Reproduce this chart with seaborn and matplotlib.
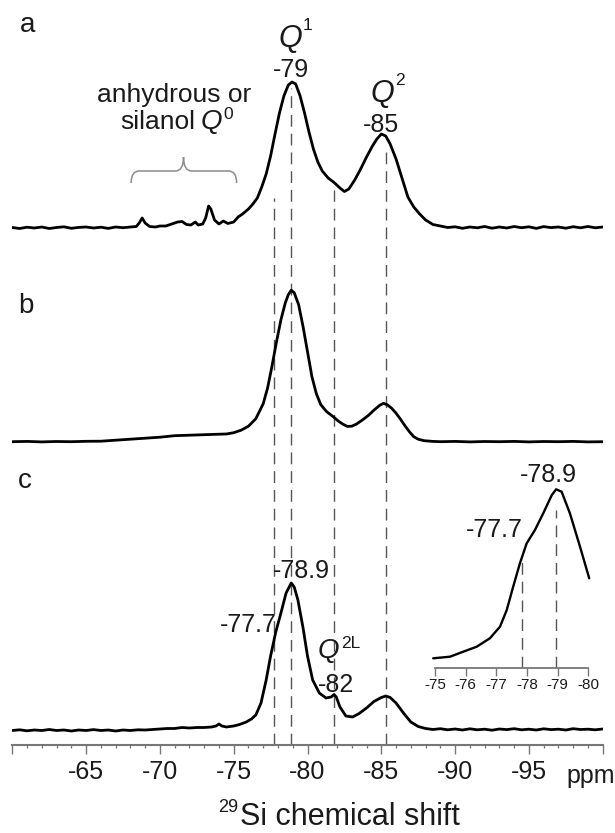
import numpy as np
import pandas as pd
import matplotlib
matplotlib.use("Agg")
import matplotlib.pyplot as plt
import seaborn as sns
from matplotlib.path import Path
from matplotlib.patches import PathPatch
from matplotlib.ticker import MultipleLocator

# ---------------- data ----------------
ppm_a = [-60.0, -60.5, -61.0, -61.5, -62.0, -62.5, -63.0, -63.5, -64.0, -64.5,
         -65.0, -65.5, -66.0, -66.5, -67.0, -67.5, -68.0, -68.4, -68.6, -68.8,
         -69.0, -69.3, -69.7, -70.0, -70.4, -70.8, -71.2, -71.5, -71.8, -72.1,
         -72.4, -72.6, -72.9, -73.1, -73.3, -73.45, -73.7, -74.0, -74.3, -74.6,
         -75.0, -75.3, -75.6, -76.0, -76.3, -76.6, -76.9, -77.2, -77.5, -77.8,
         -78.1, -78.4, -78.7, -78.95, -79.2, -79.5, -79.8, -80.1, -80.4, -80.7,
         -81.0, -81.4, -81.8, -82.2, -82.5, -82.8, -83.2, -83.6, -84.0, -84.4,
         -84.7, -85.0, -85.3, -85.6, -86.0, -86.4, -86.8, -87.2, -87.6, -88.0,
         -88.5, -89.0, -89.5, -90.0, -90.5, -91.0, -91.5, -92.0, -92.5, -93.0,
         -93.5, -94.0, -94.5, -95.0, -95.5, -96.0, -96.5, -97.0, -97.5, -98.0,
         -98.5, -99.0, -99.5, -100.0]
int_a = [0.5, -0.5, 0.8, 0.0, 1.0, -0.5, 0.5, 1.2, -0.3, 0.6,
         1.0, 0.0, 0.8, -0.4, 1.0, 0.3, 1.0, 1.5, 5.0, 10.0,
         5.0, 1.5, 1.0, 2.0, 2.0, 4.0, 6.0, 6.5, 3.5, 3.0,
         6.0, 3.0, 4.0, 10.0, 22.0, 19.0, 8.0, 4.0, 7.0, 4.5,
         6.0, 11.0, 14.0, 19.0, 24.0, 30.0, 41.0, 54.0, 72.0, 94.0,
         115.0, 132.0, 143.0, 146.0, 144.0, 132.0, 115.0, 96.0, 79.0, 66.0,
         57.0, 50.0, 45.5, 40.0, 36.5, 39.0, 48.0, 59.0, 71.0, 82.0,
         89.0, 94.0, 92.0, 84.0, 69.0, 50.0, 31.0, 21.0, 14.0, 8.0,
         3.5, 2.0, 0.5, 1.2, -0.3, 1.0, 0.2, 1.5, -0.2, 1.0,
         0.0, 1.5, 0.3, 1.2, -0.4, 1.4, 0.4, 1.0, -0.2, 1.3,
         0.2, 1.5, 0.2, 1.0]

ppm_b = [-60, -61, -62, -63, -64, -65, -66, -67, -68, -69,
         -70, -71, -72, -73, -74, -74.5, -75, -75.5, -76, -76.5,
         -77, -77.3, -77.6, -77.9, -78.2, -78.5, -78.7, -78.9, -79.1, -79.4,
         -79.7, -80.0, -80.3, -80.6, -80.9, -81.3, -81.7, -82.1, -82.4, -82.7,
         -83.0, -83.3, -83.7, -84.1, -84.5, -84.9, -85.15, -85.4, -85.7, -86.0,
         -86.3, -86.6, -86.9, -87.2, -87.5, -87.9, -88.5, -89, -90, -91,
         -92, -93, -94, -95, -96, -97, -98, -99, -100]
int_b = [0.0, 0.3, -0.2, 0.2, 0.0, 0.4, 0.5, 1.5, 2.5, 3.5,
         4.5, 6.0, 6.5, 7.0, 7.5, 7.7, 9.0, 11.5, 15.5, 23.0,
         38.0, 54.0, 76.0, 100.0, 122.0, 139.0, 147.0, 151.5, 149.0, 137.0,
         115.0, 90.0, 65.0, 48.0, 37.0, 30.0, 25.5, 20.5, 17.5, 15.3,
         15.5, 17.5, 21.5, 26.0, 31.5, 36.5, 38.3, 37.0, 33.5, 28.5,
         22.5, 16.0, 10.0, 5.0, 2.5, 1.0, 0.3, 0.0, 0.3, -0.2,
         0.2, 0.0, 0.3, -0.2, 0.2, 0.0, 0.3, -0.2, 0.0]

ppm_c = [-60.0, -60.5, -61.0, -61.5, -62.0, -62.5, -63.0, -63.5, -64.0, -64.5,
         -65.0, -65.5, -66.0, -66.5, -67.0, -67.5, -68.0, -68.5, -69.0, -69.5,
         -70.0, -70.5, -71.0, -71.5, -72.0, -72.5, -73.0, -73.5, -73.8, -74.0,
         -74.2, -74.5, -75.0, -75.4, -75.85, -76.2, -76.5, -76.85, -77.2, -77.5,
         -77.85, -78.2, -78.55, -78.9, -79.1, -79.35, -79.7, -80.0, -80.35, -80.8,
         -81.25, -81.6, -81.8, -81.95, -82.2, -82.6, -83.05, -83.5, -84.0, -84.5,
         -85.0, -85.3, -85.6, -86.0, -86.5, -87.0, -87.5, -88.0, -88.5, -89.0,
         -89.5, -90.0, -90.5, -91.0, -91.5, -92.0, -92.5, -93.0, -93.5, -94.0,
         -94.5, -95.0, -95.5, -96.0, -96.5, -97.0, -97.5, -98.0, -98.5, -99.0,
         -99.5, -100.0]
int_c = [-1.5, -0.8, -1.8, -1.0, -1.5, -0.5, -1.5, -1.0, -2.0, -1.0,
         -1.5, -0.6, -1.5, -1.0, -2.0, -1.0, -1.5, -0.8, -1.0, -0.5,
         0.0, 0.5, 0.5, 1.5, 1.0, 1.5, 1.5, 2.0, 3.0, 5.0,
         3.0, 2.0, 3.0, 4.5, 7.0, 10.0, 14.0, 26.0, 49.0, 73.0,
         97.0, 116.0, 136.0, 146.0, 142.0, 129.0, 101.0, 73.0, 49.0, 36.0,
         31.0, 32.0, 34.5, 32.0, 22.0, 13.0, 12.0, 15.5, 21.0, 27.5,
         31.5, 33.0, 31.5, 26.0, 16.0, 7.0, 2.5, 0.5, -0.5, 0.3,
         -0.8, 0.0, -1.0, 0.2, -0.8, -0.2, -1.2, 0.0, -0.6, 0.3,
         -0.8, -0.2, -1.0, 0.2, -0.6, -0.2, -1.0, 0.3, -0.5, -0.2,
         -0.8, 0.0]

ppm_inset = [-74.94, -75.49, -75.92, -76.36, -76.79, -77.12, -77.34, -77.55, -77.77,
             -77.99, -78.26, -78.53, -78.81, -78.95, -79.13, -79.4, -79.73, -80.03]
int_inset = [9.7, 11.3, 16.3, 21.3, 29.7, 41.3, 58.0, 81.3, 104.7,
             124.7, 138.0, 154.7, 173.0, 178.7, 176.3, 154.7, 121.3, 89.7]

dash_ppm = [-77.7, -78.9, -81.8, -85.3]
inset_dash_ppm = [-77.85, -78.95]

main_ticks = [-60, -65, -70, -75, -80, -85, -90, -95, -100]
main_tick_labels = ["", "-65", "-70", "-75", "-80", "-85", "-90", "-95", ""]
inset_ticks = [-75, -76, -77, -78, -79, -80]
inset_tick_labels = ["-75", "-76", "-77", "-78", "-79", "-80"]

# ---------------- layout / style ----------------
sns.set_theme(style="white")
plt.rcParams["font.family"] = ["Liberation Sans", "DejaVu Sans"]

W, H = 615, 833
fig = plt.figure(figsize=(W / 100, H / 100), dpi=100)
fig.patch.set_facecolor("white")


def px_rect(x0, x1, ytop, ybot):
    return [x0 / W, 1 - ybot / H, (x1 - x0) / W, (ybot - ytop) / H]


INK = "#1a1a1a"
GRID = "#777777"
DASH = "#555555"

ax = fig.add_axes(px_rect(12.3, 602.7, 0, 745))
ax.patch.set_alpha(0)
ax.set_xlim(-60, -100)
ax.set_ylim(0, 745)

offsets = {"a": 517.0, "b": 303.3, "c": 16.0}
dash_tops = [547, 657, 555, 593]

for x, top in zip(dash_ppm, dash_tops):
    ax.plot([x, x], [0, top], color=DASH, lw=1.0, ls=(0, (8.5, 5)), zorder=1)

for key, ppm, inten in [("a", ppm_a, int_a), ("b", ppm_b, int_b), ("c", ppm_c, int_c)]:
    df = pd.DataFrame({"ppm": ppm, "y": np.asarray(inten, float) + offsets[key]})
    sns.lineplot(data=df, x="ppm", y="y", ax=ax, color="black", lw=2.0,
                 estimator=None, sort=False, zorder=3)

# brace over the Q0 region
xl, xr, xc, r = -68.05, -75.2, -71.6, 0.55
ye, yh, yt = 562, 574, 588
verts = [(xl, ye), (xl, yh), (xl - r, yh), (xc + r, yh), (xc, yh), (xc, yt),
         (xc, yh), (xc - r, yh), (xr + r, yh), (xr, yh), (xr, ye)]
codes = [Path.MOVETO, Path.CURVE3, Path.CURVE3, Path.LINETO, Path.CURVE3, Path.CURVE3,
         Path.CURVE3, Path.CURVE3, Path.LINETO, Path.CURVE3, Path.CURVE3]
ax.add_patch(PathPatch(Path(verts, codes), fill=False, ec="#8c8c8c", lw=1.1))

for s in ["top", "left", "right"]:
    ax.spines[s].set_visible(False)
ax.spines["bottom"].set_color(GRID)
ax.spines["bottom"].set_linewidth(1.5)
ax.set_yticks([])
ax.set_xticks(main_ticks)
ax.set_xticklabels(main_tick_labels)
ax.xaxis.set_minor_locator(MultipleLocator(1))
ax.tick_params(axis="x", which="major", bottom=True, direction="out", length=6.5,
               width=1.0, color=GRID, labelsize=18, pad=4.0, labelcolor=INK)
ax.tick_params(axis="x", which="minor", bottom=True, direction="out", length=2.5,
               width=0.9, color=GRID)
ax.set_xlabel("")
ax.set_ylabel("")

# ---------------- inset ----------------
ins = fig.add_axes(px_rect(435, 588.3, 470, 668))
ins.patch.set_alpha(0)
ins.set_xlim(-75, -80)
ins.set_ylim(0, 198)
for x, top in zip(inset_dash_ppm, [113, 158]):
    ins.plot([x, x], [0, top], color=DASH, lw=1.0, ls=(0, (8.5, 5)), zorder=1)
dfi = pd.DataFrame({"ppm": ppm_inset, "y": int_inset})
sns.lineplot(data=dfi, x="ppm", y="y", ax=ins, color="black", lw=1.7,
             estimator=None, sort=False, clip_on=False, zorder=3)
for s in ["top", "left", "right"]:
    ins.spines[s].set_visible(False)
ins.spines["bottom"].set_color(GRID)
ins.spines["bottom"].set_linewidth(1.3)
ins.set_yticks([])
ins.set_xticks(inset_ticks)
ins.set_xticklabels(inset_tick_labels)
ins.tick_params(axis="x", which="major", bottom=True, direction="out", length=5.5,
                width=1.0, color=GRID, labelsize=11, pad=1.5, labelcolor=INK)
ins.set_xlabel("")
ins.set_ylabel("")

# ---------------- text overlay (pixel coordinates) ----------------
ov = fig.add_axes([0, 0, 1, 1])
ov.set_xlim(0, W)
ov.set_ylim(H, 0)
ov.axis("off")
ov.patch.set_alpha(0)


def t(x, y, s, fs, ha="left", style="normal", color=INK):
    ov.text(x, y, s, fontsize=fs, ha=ha, va="baseline", style=style, color=color)


# panel labels
t(20, 32, "a", 20)
t(18, 313, "b", 20)
t(18, 488, "c", 20)

# panel a annotations
t(278, 47, "Q", 22, style="italic")
t(303, 30, "1", 12.5)
t(291, 77, "-79", 18, ha="center")
t(370, 102, "Q", 22, style="italic")
t(395, 85, "2", 12.5)
t(381.5, 132, "-85", 18, ha="center")
t(174, 102, "anhydrous or", 19, ha="center")
t(195, 129, "silanol", 19, ha="right")
t(201, 129, "Q", 20, style="italic")
t(223.5, 119, "0", 12.5)

# panel c annotations
t(301.7, 578, "-78.9", 18, ha="center")
t(277, 632, "-77.7", 18, ha="right")
t(318, 658, "Q", 20, style="italic")
t(341, 648, "2L", 12.5)
t(336, 692, "-82", 18, ha="center")

# inset annotations
t(548, 482, "-78.9", 18, ha="center")
t(523, 537, "-77.7", 18, ha="right")

# axis unit and title
t(566, 783, "ppm", 18)
t(218, 812, "29", 13)
t(240, 825, "Si chemical shift", 22)

fig.savefig("out.png", dpi=100, facecolor="white")
